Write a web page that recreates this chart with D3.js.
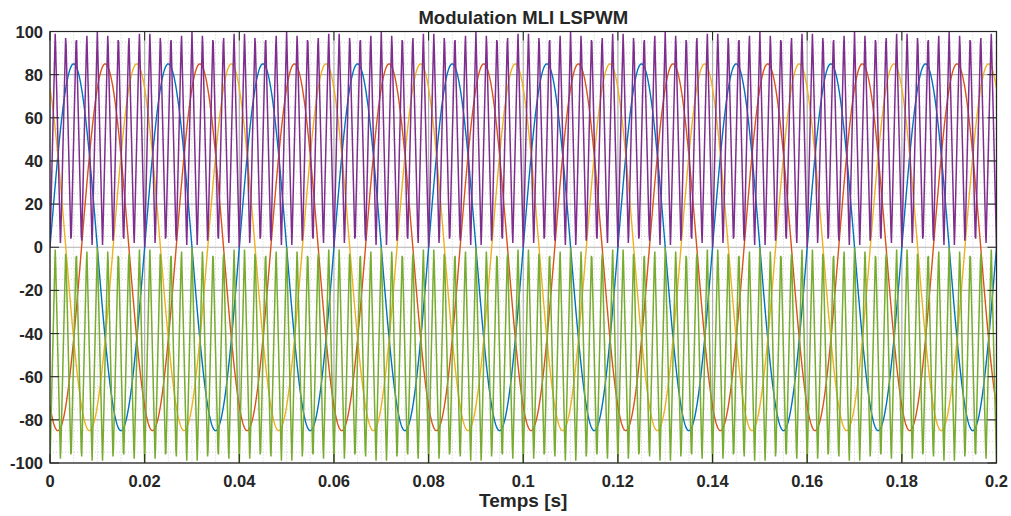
<!DOCTYPE html>
<html>
<head>
<meta charset="utf-8">
<script src="https://cdn.jsdelivr.net/npm/d3@7/dist/d3.min.js"></script>
<style>
  html, body { margin: 0; padding: 0; background: #fff; }
  svg { display: block; }
  text { font-family: "Liberation Sans", Arial, Helvetica, sans-serif; font-weight: bold; fill: #262626; }
</style>
</head>
<body>
<svg id="chart" width="1011" height="516"></svg>
<script>
// Simulation settings (time axis, solver step)
const timeSpan = [0, 0.2];
const sampleStep = 1e-4;

// Three-phase sinusoidal references
const refNames = ["Va", "Vb", "Vc"];
const refAmplitude = [85, 85, 85];
const refFrequency = [50, 50, 50];
const refPhaseDeg = [0, -120, 120];
const refColors = ["#0072BD", "#D95319", "#EDB120"];

// Level-shifted triangular carriers (phase disposition)
const carrierNames = ["Porteuse haute", "Porteuse basse"];
const carrierFrequency = [450, 450];
const carrierLow = [0, -100];
const carrierHigh = [100, 0];
const carrierColors = ["#7E2F8E", "#77AC30"];

// Axis ticks
const xTicks = [0, 0.02, 0.04, 0.06, 0.08, 0.1, 0.12, 0.14, 0.16, 0.18, 0.2];
const yTicks = [-100, -80, -60, -40, -20, 0, 20, 40, 60, 80, 100];
const xMinorTicks = d3.range(0, 0.2001, 0.005);
const yMinorTicks = d3.range(-100, 100.01, 5);

const svg = d3.select("#chart");
const margin = { left: 50, right: 14.5, top: 31.5, bottom: 53 };
const W = 1011, H = 516;
const iw = W - margin.left - margin.right;
const ih = H - margin.top - margin.bottom;

const x = d3.scaleLinear().domain(timeSpan).range([0, iw]);
const y = d3.scaleLinear().domain([-100, 100]).range([ih, 0]);

const g = svg.append("g").attr("transform", `translate(${margin.left},${margin.top})`);

g.append("defs").append("clipPath").attr("id", "plotClip")
  .append("rect").attr("width", iw).attr("height", ih);

// minor grid (dotted)
const minor = g.append("g").attr("class", "minor-grid");
minor.selectAll("line.vx").data(xMinorTicks.filter(v => !xTicks.some(t => Math.abs(t - v) < 1e-9)))
  .join("line")
  .attr("x1", d => x(d)).attr("x2", d => x(d)).attr("y1", 0).attr("y2", ih)
  .attr("stroke", "#cfcfcf").attr("stroke-width", 1).attr("stroke-dasharray", "1,2");
minor.selectAll("line.hy").data(yMinorTicks.filter(v => !yTicks.includes(Math.round(v))))
  .join("line")
  .attr("y1", d => y(d)).attr("y2", d => y(d)).attr("x1", 0).attr("x2", iw)
  .attr("stroke", "#cfcfcf").attr("stroke-width", 1).attr("stroke-dasharray", "1,2");

// major grid
const major = g.append("g").attr("class", "major-grid");
major.selectAll("line.gx").data(xTicks).join("line")
  .attr("x1", d => x(d)).attr("x2", d => x(d)).attr("y1", 0).attr("y2", ih)
  .attr("stroke", "#b0b0b0").attr("stroke-width", 1.2);
major.selectAll("line.gy").data(yTicks).join("line")
  .attr("y1", d => y(d)).attr("y2", d => y(d)).attr("x1", 0).attr("x2", iw)
  .attr("stroke", "#b0b0b0").attr("stroke-width", 1.2);

// sampled time vector
const nSamples = Math.round((timeSpan[1] - timeSpan[0]) / sampleStep);
const time = d3.range(nSamples + 1).map(i => timeSpan[0] + i * sampleStep);

const line = d3.line().x(d => x(d[0])).y(d => y(d[1]));
const plot = g.append("g").attr("clip-path", "url(#plotClip)");

// references
refNames.forEach((name, k) => {
  const w = 2 * Math.PI * refFrequency[k];
  const ph = refPhaseDeg[k] * Math.PI / 180;
  const pts = time.map(t => [t, refAmplitude[k] * Math.sin(w * t + ph)]);
  plot.append("path").datum(pts).attr("d", line)
    .attr("fill", "none").attr("stroke", refColors[k]).attr("stroke-width", 1.4)
    .attr("stroke-linejoin", "round");
});

// carriers
carrierNames.forEach((name, k) => {
  const lo = carrierLow[k], hi = carrierHigh[k];
  const pts = time.map(t => {
    let p = (t * carrierFrequency[k]) % 1;
    return [t, lo + (hi - lo) * (1 - Math.abs(2 * p - 1))];
  });
  plot.append("path").datum(pts).attr("d", line)
    .attr("fill", "none").attr("stroke", carrierColors[k]).attr("stroke-width", 1.5)
    .attr("stroke-linejoin", "miter");
});

// box and ticks
const tickLen = 9;
const frame = g.append("g").attr("class", "frame");
frame.append("rect").attr("width", iw).attr("height", ih)
  .attr("fill", "none").attr("stroke", "#262626").attr("stroke-width", 1.2);
frame.selectAll("line.tb").data(xTicks).join("line")
  .attr("x1", d => x(d)).attr("x2", d => x(d)).attr("y1", ih).attr("y2", ih - tickLen)
  .attr("stroke", "#262626");
frame.selectAll("line.tt").data(xTicks).join("line")
  .attr("x1", d => x(d)).attr("x2", d => x(d)).attr("y1", 0).attr("y2", tickLen)
  .attr("stroke", "#262626");
frame.selectAll("line.tl").data(yTicks).join("line")
  .attr("y1", d => y(d)).attr("y2", d => y(d)).attr("x1", 0).attr("x2", tickLen)
  .attr("stroke", "#262626");
frame.selectAll("line.tr").data(yTicks).join("line")
  .attr("y1", d => y(d)).attr("y2", d => y(d)).attr("x1", iw).attr("x2", iw - tickLen)
  .attr("stroke", "#262626");

// tick labels
const fmt = d => String(+d.toFixed(2));
g.append("g").selectAll("text").data(xTicks).join("text")
  .attr("x", d => x(d)).attr("y", ih + 24).attr("text-anchor", "middle")
  .attr("font-size", 16.5).text(fmt);
g.append("g").selectAll("text").data(yTicks).join("text")
  .attr("x", -7).attr("y", d => y(d) + 6).attr("text-anchor", "end")
  .attr("font-size", 16.5).text(fmt);

// titles
svg.append("text").attr("x", margin.left + iw / 2).attr("y", 24).attr("text-anchor", "middle")
  .attr("font-size", 18.5).text("Modulation MLI LSPWM");
svg.append("text").attr("x", margin.left + iw / 2).attr("y", 507).attr("text-anchor", "middle")
  .attr("font-size", 19).text("Temps [s]");
</script>
</body>
</html>
